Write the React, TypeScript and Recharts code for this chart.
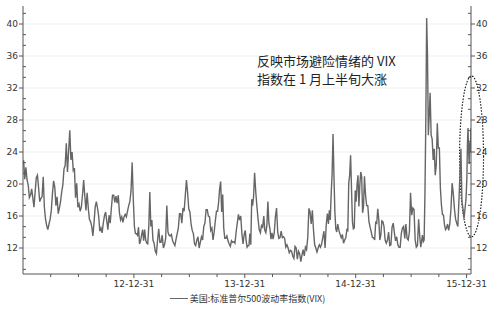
import React from 'react';
import { LineChart, Line, XAxis, YAxis, CartesianGrid, Legend, ReferenceArea } from 'recharts';

// VIX closes, a few readings per month
const vix2012 = [
  [22.97, 20.6, 22.1, 20.5, 19.9, 18.3, 18.6, 19.4],
  [18.3, 17.1, 19.0, 20.8, 21.1, 19.5, 17.8, 18.2],
  [18.4, 20.9, 17.1, 15.6, 14.8, 14.3, 15.0, 15.6],
  [16.7, 18.8, 20.4, 19.6, 17.3, 18.4, 16.3, 17.0],
  [17.8, 19.0, 19.9, 21.9, 22.3, 25.1, 21.5, 24.1],
  [26.7, 23.0, 24.0, 21.7, 22.0, 18.3, 20.1, 17.1],
  [17.5, 16.6, 17.1, 18.6, 20.5, 18.5, 16.7, 18.9],
  [17.0, 15.6, 15.3, 14.7, 13.5, 15.2, 17.1, 17.8],
  [17.0, 16.0, 14.1, 14.5, 13.9, 15.1, 16.0, 16.5],
  [15.4, 14.3, 16.1, 15.1, 17.0, 18.6, 18.6, 17.7],
  [18.5, 17.6, 18.6, 16.4, 15.5, 15.9, 15.2, 15.9],
  [16.2, 15.9, 16.6, 17.3, 17.8, 19.1, 22.7, 18.0],
];
const vix2013 = [
  [14.7, 13.8, 13.8, 13.6, 14.6, 12.5, 12.9, 13.6, 14.3],
  [12.9, 14.3, 13.0, 12.6, 12.5, 14.7, 18.99, 14.7, 15.5],
  [13.0, 12.6, 11.6, 11.3, 13.0, 14.4, 12.7, 12.7],
  [13.6, 12.0, 12.4, 13.2, 17.3, 14.0, 13.6, 13.5],
  [13.7, 12.9, 12.6, 12.3, 13.1, 13.8, 14.5, 16.3],
  [16.3, 15.1, 17.0, 16.6, 18.6, 20.5, 18.9, 16.9],
  [16.5, 15.0, 14.2, 13.8, 12.5, 12.3, 13.0, 13.4],
  [12.0, 12.7, 13.4, 13.0, 14.7, 15.1, 16.8, 16.8],
  [16.0, 15.9, 14.2, 14.5, 13.0, 14.0, 15.4, 16.6],
  [16.6, 17.7, 19.4, 20.3, 16.5, 18.7, 14.5, 13.2, 13.2],
  [13.5, 12.9, 12.5, 12.2, 12.9, 12.7, 12.8, 12.6],
  [14.0, 15.1, 16.2, 15.5, 16.0, 13.8, 12.5, 13.7],
];
const vix2014 = [
  [14.2, 12.9, 12.1, 12.3, 12.3, 13.8, 12.4, 18.1, 17.3, 18.4],
  [21.4, 19.0, 17.2, 15.6, 14.3, 13.9, 14.8, 14.6],
  [16.0, 14.2, 13.9, 14.8, 17.8, 15.1, 14.4, 13.1, 13.9],
  [13.1, 13.9, 15.9, 17.0, 14.0, 13.2, 13.3, 14.1],
  [13.3, 13.4, 13.2, 12.1, 12.4, 12.0, 11.4, 11.7],
  [11.6, 11.0, 10.7, 12.2, 12.0, 10.6, 11.6, 11.3],
  [10.3, 11.1, 11.8, 11.0, 12.1, 11.8, 13.3, 16.95],
  [16.5, 15.0, 16.7, 14.2, 12.4, 12.0, 11.5, 12.0],
  [12.4, 12.1, 12.5, 13.3, 14.1, 12.0, 14.9, 16.3],
  [15.0, 16.7, 15.5, 18.8, 21.2, 26.25, 21.0, 16.5, 14.4, 14.0],
  [15.0, 14.2, 13.7, 13.3, 13.7, 12.6, 13.0, 13.3],
  [14.3, 14.2, 20.1, 21.1, 23.6, 19.4, 15.3, 14.4, 14.5, 19.2],
];
const vix2015 = [
  [17.8, 19.9, 21.1, 17.2, 19.9, 21.5, 20.9, 16.4, 17.2, 20.97],
  [18.7, 17.3, 17.3, 15.3, 14.6, 14.0, 13.3, 13.3],
  [13.0, 15.2, 15.1, 16.9, 15.6, 13.0, 13.6, 15.4, 15.3],
  [14.7, 13.0, 12.6, 13.0, 14.0, 12.3, 12.4, 14.6],
  [15.1, 13.9, 12.9, 13.4, 12.4, 12.1, 12.1, 13.8],
  [14.5, 14.7, 13.2, 15.0, 13.2, 13.0, 14.0, 18.9],
  [16.1, 17.0, 16.8, 13.0, 12.1, 12.3, 15.6, 13.4],
  [12.1, 12.9, 13.6, 12.8, 13.0, 19.1, 28.0, 40.74, 36.0, 26.1, 28.4],
  [31.4, 26.1, 25.6, 23.0, 24.4, 21.1, 22.4, 27.6, 24.5],
  [24.5, 19.5, 17.4, 16.2, 16.1, 14.9, 14.3, 14.5, 15.0],
  [14.2, 15.0, 16.9, 20.1, 18.8, 16.9, 15.6, 15.1],
  [14.7, 17.7, 21.0, 24.4, 17.9, 16.9, 15.7, 16.9, 18.2],
];
// first half of January 2016
const vix2016 = [20.7, 25.0, 27.0, 24.3, 22.5, 25.2, 23.9, 27.0];

const years = [
  { year: 2012, months: vix2012 },
  { year: 2013, months: vix2013 },
  { year: 2014, months: vix2014 },
  { year: 2015, months: vix2015 },
];

const yMajor = [12, 16, 20, 24, 28, 32, 36, 40];
const xMajor = [2013, 2014, 2015, 2016];
const xLabels = ['12-12-31', '13-12-31', '14-12-31', '15-12-31'];
const seriesName = '美国:标准普尔500波动率指数(VIX)';

const data: { t: number; v: number }[] = [];
years.forEach(({ year, months }) => {
  months.forEach((vals, m) => {
    vals.forEach((v, i) => data.push({ t: year + (m + (i + 0.5) / vals.length) / 12, v }));
  });
});
vix2016.forEach((v, i) => data.push({ t: 2016 + ((i + 0.5) / vix2016.length) * (0.5 / 12), v }));

const yDomain = [8.75, 42.25];
const yTicks: number[] = [];
for (let m = 8; m <= 40; m += 4) {
  [m, m + 4 / 3, m + 8 / 3].forEach((t) => {
    if (t >= yDomain[0] && t <= yDomain[1]) yTicks.push(t);
  });
}
const xTicks: number[] = [];
for (let y = 2012; y < 2016; y++) [0.25, 0.5, 0.75, 1].forEach((q) => xTicks.push(y + q));

const axisColor = '#555';
const tickFont = { fontSize: 9, fill: '#333', fontFamily: 'DejaVu Sans' };

const LeftTick = ({ x, y, payload }: any) => {
  const major = yMajor.includes(payload.value);
  return major ? (
    <g>
      <line x1={x - 4} x2={x} y1={y} y2={y} stroke={axisColor} />
      <text x={x - 5} y={y} textAnchor="end" dominantBaseline="central" {...tickFont}>{payload.value}</text>
    </g>
  ) : (
    <line x1={x} x2={x + 3} y1={y} y2={y} stroke={axisColor} />
  );
};

const RightTick = ({ x, y, payload }: any) => {
  const major = yMajor.includes(payload.value);
  return major ? (
    <g>
      <line x1={x} x2={x + 4} y1={y} y2={y} stroke={axisColor} />
      <text x={x + 5} y={y} textAnchor="start" dominantBaseline="central" {...tickFont}>{payload.value}</text>
    </g>
  ) : (
    <line x1={x - 3} x2={x} y1={y} y2={y} stroke={axisColor} />
  );
};

const BottomTick = ({ x, y, payload }: any) => {
  const idx = xMajor.indexOf(payload.value);
  return (
    <g>
      <line x1={x} x2={x} y1={y} y2={y + (idx >= 0 ? 4 : 3)} stroke={axisColor} />
      {idx >= 0 && (
        <text x={x} y={y + 10} textAnchor="middle" dominantBaseline="central" {...tickFont}>{xLabels[idx]}</text>
      )}
    </g>
  );
};

const Ellipse = ({ x, y, width, height }: any) => (
  <ellipse cx={x + width / 2} cy={y + height / 2} rx={width / 2} ry={height / 2} fill="none" stroke="#222" strokeWidth={1.2} strokeDasharray="1.5 1.5" />
);

const LegendContent = () => (
  <div style={{ height: 22, display: 'flex', alignItems: 'center', justifyContent: 'center', paddingRight: 5 }}>
    <span style={{ display: 'inline-block', width: 18, height: 0, borderTop: '1.5px solid #666', marginRight: 2 }} />
    <span style={{ fontSize: 9, color: '#333', fontFamily: 'Noto Sans CJK SC' }}>{seriesName}</span>
  </div>
);

export default function App() {
  return (
    <div style={{ position: 'relative', width: 500, height: 309, background: '#fff' }}>
      <style>{'body{margin:0}'}</style>
      <LineChart width={500} height={309} data={data} margin={{ top: 6, right: 0, bottom: 0, left: 0 }}>
        <CartesianGrid vertical={false} horizontalValues={yMajor} stroke="#efefef" yAxisId="left" />
        <XAxis
          type="number"
          dataKey="t"
          domain={[2012, 2016.04]}
          ticks={xTicks}
          interval={0}
          allowDataOverflow
          height={13}
          tickSize={0}
          tickMargin={0}
          tick={<BottomTick />}
          axisLine={{ stroke: axisColor }}
          tickLine={false}
        />
        <YAxis
          yAxisId="left"
          domain={yDomain}
          ticks={yTicks}
          interval={0}
          allowDataOverflow
          width={23}
          tickSize={0}
          tickMargin={0}
          tick={<LeftTick />}
          axisLine={{ stroke: axisColor }}
          tickLine={false}
        />
        <YAxis
          yAxisId="right"
          orientation="right"
          domain={yDomain}
          ticks={yTicks}
          interval={0}
          allowDataOverflow
          width={29}
          tickSize={0}
          tickMargin={0}
          tick={<RightTick />}
          axisLine={{ stroke: axisColor }}
          tickLine={false}
        />
        <Legend verticalAlign="bottom" height={22} content={<LegendContent />} />
        <Line
          yAxisId="left"
          type="linear"
          dataKey="v"
          name={seriesName}
          stroke="#666"
          strokeWidth={1.4}
          dot={false}
          isAnimationActive={false}
        />
        <ReferenceArea
          yAxisId="left"
          x1={2015.937}
          x2={2016.153}
          y1={13.4}
          y2={33.5}
          ifOverflow="visible"
          shape={<Ellipse />}
        />
      </LineChart>
      <div
        style={{
          position: 'absolute',
          left: 257,
          top: 52,
          fontSize: 13,
          lineHeight: '18px',
          color: '#222',
          fontFamily: 'Noto Sans CJK SC',
          whiteSpace: 'nowrap',
        }}
      >
        <div>反映市场避险情绪的 VIX</div>
        <div>指数在 1 月上半旬大涨</div>
      </div>
    </div>
  );
}
